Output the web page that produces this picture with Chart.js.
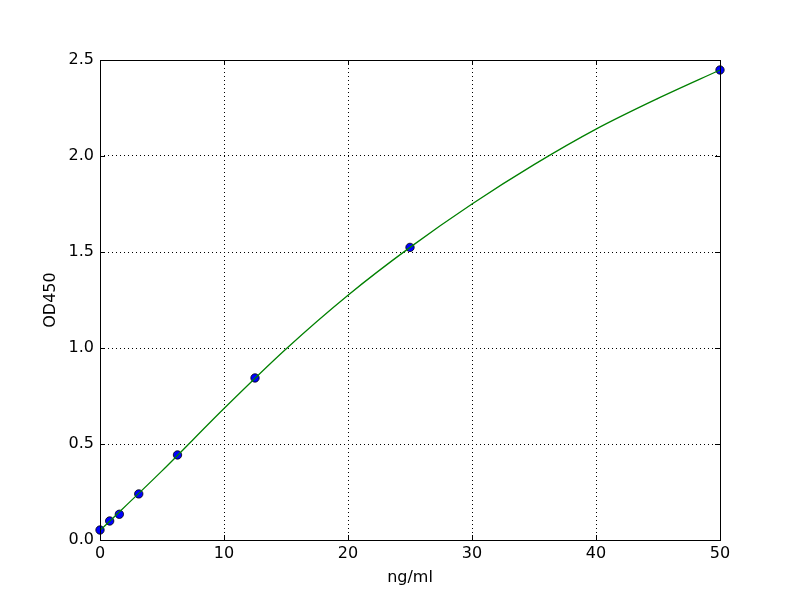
<!DOCTYPE html>
<html>
<head>
<meta charset="utf-8">
<script src="https://cdn.jsdelivr.net/npm/chart.js@4/dist/chart.umd.min.js"></script>
<style>
  html, body { margin: 0; padding: 0; background: #fff; }
  #wrap { width: 800px; height: 600px; }
</style>
</head>
<body>
<div id="wrap"><canvas id="odChart" width="800" height="600"></canvas></div>
<script>
// standard points
const concX = [0, 0.78, 1.56, 3.125, 6.25, 12.5, 25, 50];
const odY = [0.052, 0.099, 0.134, 0.24, 0.443, 0.844, 1.524, 2.448];

// fitted curve
const curveX = [0, 5, 10, 15, 20, 25, 30, 35, 40, 45, 50];
const curveY = [0.05, 0.36, 0.685, 0.995, 1.275, 1.524, 1.75, 1.955, 2.14, 2.30, 2.448];

const xTicks = [0, 10, 20, 30, 40, 50];
const yTicks = [0.0, 0.5, 1.0, 1.5, 2.0, 2.5];

const FONT = 'DejaVu Sans';

// frame and inward ticks like matplotlib
const framePlugin = {
    id: 'frame',
    afterDraw(chart) {
        const ctx = chart.ctx;
        const a = chart.chartArea;
        const xs = chart.scales.x, ys = chart.scales.y;
        const len = 5;
        ctx.save();
        ctx.strokeStyle = '#000';
        ctx.lineWidth = 1;
        ctx.beginPath();
        xTicks.forEach(v => {
            const px = Math.round(xs.getPixelForValue(v)) + 0.5;
            ctx.moveTo(px, a.bottom); ctx.lineTo(px, a.bottom - len);
            ctx.moveTo(px, a.top); ctx.lineTo(px, a.top + len);
        });
        yTicks.forEach(v => {
            const py = Math.round(ys.getPixelForValue(v)) + 0.5;
            ctx.moveTo(a.left, py); ctx.lineTo(a.left + len, py);
            ctx.moveTo(a.right, py); ctx.lineTo(a.right - len, py);
        });
        ctx.stroke();
        ctx.strokeRect(Math.round(a.left) + 0.5, Math.round(a.top) + 0.5,
            Math.round(a.right - a.left), Math.round(a.bottom - a.top));
        ctx.restore();
    }
};

new Chart(document.getElementById('odChart'), {
    type: 'scatter',
    data: {
        datasets: [{
            label: 'standards',
            data: concX.map((x, i) => ({ x: x, y: odY[i] })),
            backgroundColor: '#0000ff',
            borderColor: '#000000',
            borderWidth: 0.8,
            pointRadius: 4.2,
            showLine: false,
            clip: false,
            order: 1
        }, {
            label: 'fit',
            data: curveX.map((x, i) => ({ x: x, y: curveY[i] })),
            borderColor: '#008000',
            borderWidth: 1.3,
            pointRadius: 0,
            showLine: true,
            cubicInterpolationMode: 'monotone',
            clip: false,
            order: 0
        }]
    },
    options: {
        responsive: false,
        animation: false,
        layout: { padding: { top: 60, right: 80, left: 41, bottom: 0 } },
        plugins: { legend: { display: false }, tooltip: { enabled: false } },
        scales: {
            x: {
                type: 'linear', min: 0, max: 50,
                afterBuildTicks: s => { s.ticks = xTicks.map(v => ({ value: v })); },
                afterFit: s => { s.height = 60; },
                ticks: { color: '#000', font: { family: FONT, size: 16 }, padding: 4 },
                grid: { color: '#000', lineWidth: 1, drawTicks: false, tickLength: 0 },
                border: { display: false, dash: [1, 3] },
                title: { display: true, text: 'ng/ml', color: '#000', font: { family: FONT, size: 16 }, padding: { top: 0, bottom: 13 } }
            },
            y: {
                type: 'linear', min: 0, max: 2.5,
                afterBuildTicks: s => { s.ticks = yTicks.map(v => ({ value: v })); },
                afterFit: s => { s.width = 59; },
                ticks: { color: '#000', font: { family: FONT, size: 16 }, padding: 6, callback: v => v.toFixed(1) },
                grid: { color: '#000', lineWidth: 1, drawTicks: false, tickLength: 0 },
                border: { display: false, dash: [1, 3] },
                title: { display: true, text: 'OD450', color: '#000', font: { family: FONT, size: 16 }, padding: { top: 0, bottom: 0 } }
            }
        }
    },
    plugins: [framePlugin]
});
</script>
</body>
</html>
